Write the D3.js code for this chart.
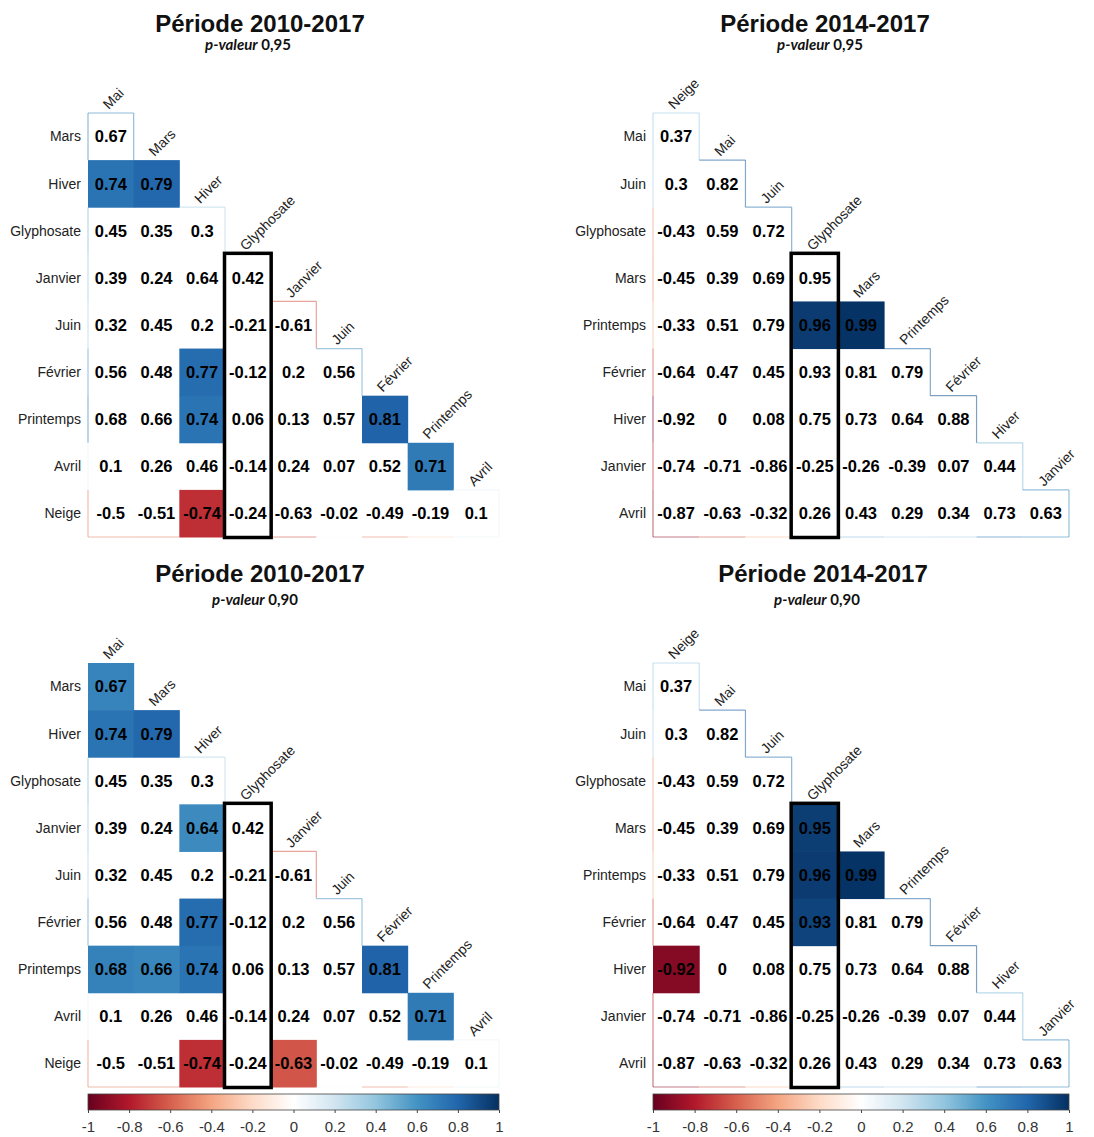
<!DOCTYPE html>
<html>
<head>
<meta charset="utf-8">
<script src="https://cdn.jsdelivr.net/npm/d3@7"></script>
<style>
  html, body { margin: 0; padding: 0; background: #fff; }
  svg { display: block; }
</style>
</head>
<body>
<svg id="chart" width="1094" height="1137"></svg>
<script>
// Variables for the 2010-2017 period (rows / columns of the lower triangle)
const rows2010 = ["Mars", "Hiver", "Glyphosate", "Janvier", "Juin", "Février", "Printemps", "Avril", "Neige"];
const cols2010 = ["Mai", "Mars", "Hiver", "Glyphosate", "Janvier", "Juin", "Février", "Printemps", "Avril"];
const corr2010 = [
  [0.67],
  [0.74, 0.79],
  [0.45, 0.35, 0.3],
  [0.39, 0.24, 0.64, 0.42],
  [0.32, 0.45, 0.2, -0.21, -0.61],
  [0.56, 0.48, 0.77, -0.12, 0.2, 0.56],
  [0.68, 0.66, 0.74, 0.06, 0.13, 0.57, 0.81],
  [0.1, 0.26, 0.46, -0.14, 0.24, 0.07, 0.52, 0.71],
  [-0.5, -0.51, -0.74, -0.24, -0.63, -0.02, -0.49, -0.19, 0.1]
];
// Significant pairs [row, column]
const sig2010_95 = [["Hiver", "Mai"], ["Hiver", "Mars"], ["Février", "Hiver"], ["Printemps", "Hiver"],
  ["Printemps", "Février"], ["Avril", "Printemps"], ["Neige", "Hiver"]];
const sig2010_90 = [["Mars", "Mai"], ["Hiver", "Mai"], ["Hiver", "Mars"], ["Janvier", "Hiver"],
  ["Février", "Hiver"], ["Printemps", "Mai"], ["Printemps", "Mars"], ["Printemps", "Hiver"],
  ["Printemps", "Février"], ["Avril", "Printemps"], ["Neige", "Hiver"], ["Neige", "Janvier"]];

// Variables for the 2014-2017 period
const rows2014 = ["Mai", "Juin", "Glyphosate", "Mars", "Printemps", "Février", "Hiver", "Janvier", "Avril"];
const cols2014 = ["Neige", "Mai", "Juin", "Glyphosate", "Mars", "Printemps", "Février", "Hiver", "Janvier"];
const corr2014 = [
  [0.37],
  [0.3, 0.82],
  [-0.43, 0.59, 0.72],
  [-0.45, 0.39, 0.69, 0.95],
  [-0.33, 0.51, 0.79, 0.96, 0.99],
  [-0.64, 0.47, 0.45, 0.93, 0.81, 0.79],
  [-0.92, 0, 0.08, 0.75, 0.73, 0.64, 0.88],
  [-0.74, -0.71, -0.86, -0.25, -0.26, -0.39, 0.07, 0.44],
  [-0.87, -0.63, -0.32, 0.26, 0.43, 0.29, 0.34, 0.73, 0.63]
];
const sig2014_95 = [["Printemps", "Glyphosate"], ["Printemps", "Mars"]];
const sig2014_90 = [["Mars", "Glyphosate"], ["Printemps", "Glyphosate"], ["Printemps", "Mars"],
  ["Février", "Glyphosate"], ["Hiver", "Neige"]];

// Colour bar ticks and the diverging RdBu palette
const barTicks = [-1, -0.8, -0.6, -0.4, -0.2, 0, 0.2, 0.4, 0.6, 0.8, 1];
const palette = ["#67001F", "#B2182B", "#D6604D", "#F4A582", "#FDDBC7", "#FFFFFF",
  "#D1E5F0", "#92C5DE", "#4393C3", "#2166AC", "#053061"];

const color = d3.scaleLinear()
  .domain(d3.range(palette.length).map(i => -1 + 2 * i / (palette.length - 1)))
  .range(palette)
  .interpolate(d3.interpolateRgb);

const panels = [
  { title: "Période 2010-2017", p: "0,95", rows: rows2010, cols: cols2010, corr: corr2010, sig: sig2010_95,
    box: "Glyphosate", x0: 88, x1: 499, y0: 113, y1: 537, tx: 260, ty: 32, sx: 248, sy: 50, bar: false },
  { title: "Période 2014-2017", p: "0,95", rows: rows2014, cols: cols2014, corr: corr2014, sig: sig2014_95,
    box: "Glyphosate", x0: 653, x1: 1069, y0: 113, y1: 537, tx: 825, ty: 32, sx: 820, sy: 50, bar: false },
  { title: "Période 2010-2017", p: "0,90", rows: rows2010, cols: cols2010, corr: corr2010, sig: sig2010_90,
    box: "Glyphosate", x0: 88, x1: 499, y0: 663, y1: 1087, tx: 260, ty: 582, sx: 255, sy: 605, bar: true },
  { title: "Période 2014-2017", p: "0,90", rows: rows2014, cols: cols2014, corr: corr2014, sig: sig2014_90,
    box: "Glyphosate", x0: 653, x1: 1069, y0: 663, y1: 1087, tx: 823, ty: 582, sx: 817, sy: 605, bar: true }
];

const svg = d3.select("#chart");
const defs = svg.append("defs");
const grad = defs.append("linearGradient").attr("id", "rdbu").attr("x1", "0%").attr("x2", "100%");
d3.range(0, 1.0001, 0.05).forEach(t => {
  grad.append("stop").attr("offset", (t * 100) + "%").attr("stop-color", color(-1 + 2 * t));
});

const SANS = "'Liberation Sans', Arial, sans-serif";

panels.forEach(pn => {
  const g = svg.append("g");
  const x = d3.scaleBand().domain(pn.cols).range([pn.x0, pn.x1]);
  const y = d3.scaleBand().domain(pn.rows).range([pn.y0, pn.y1]);
  const w = x.bandwidth(), h = y.bandwidth();
  const n = pn.rows.length;
  const sigSet = new Set(pn.sig.map(d => d[0] + "|" + d[1]));

  const cells = [];
  pn.corr.forEach((row, i) => row.forEach((v, j) => {
    cells.push({ i, j, r: pn.rows[i], c: pn.cols[j], v, sig: sigSet.has(pn.rows[i] + "|" + pn.cols[j]) });
  }));

  // Titles
  g.append("text")
    .attr("x", pn.tx).attr("y", pn.ty)
    .attr("text-anchor", "middle")
    .style("font-family", SANS).style("font-weight", "bold").style("font-size", "24px")
    .attr("fill", "#111")
    .text(pn.title);
  const sub = g.append("text")
    .attr("x", pn.sx).attr("y", pn.sy)
    .attr("text-anchor", "middle")
    .style("font-family", "Lato, 'Open Sans', sans-serif").style("font-size", "15px").style("font-weight", "bold")
    .attr("fill", "#111");
  sub.append("tspan").style("font-style", "italic").text("p-valeur");
  sub.append("tspan").text(" " + pn.p);

  // Filled cells for significant correlations
  g.selectAll("rect.cell")
    .data(cells.filter(d => d.sig))
    .join("rect")
    .attr("class", "cell")
    .attr("x", d => x(d.c)).attr("y", d => y(d.r))
    .attr("width", w + 0.5).attr("height", h + 0.5)
    .attr("fill", d => color(d.v));

  // Outer edges of the triangle, tinted with each cell's colour
  const edges = [];
  cells.filter(d => !d.sig).forEach(d => {
    const cx0 = x(d.c), cy0 = y(d.r), cx1 = cx0 + w, cy1 = cy0 + h;
    if (d.j === 0) edges.push({ v: d.v, x1: cx0, y1: cy0, x2: cx0, y2: cy1 });
    if (d.i === n - 1) edges.push({ v: d.v, x1: cx0, y1: cy1, x2: cx1, y2: cy1 });
    if (d.j === d.i) {
      edges.push({ v: d.v, x1: cx0, y1: cy0, x2: cx1, y2: cy0 });
      edges.push({ v: d.v, x1: cx1, y1: cy0, x2: cx1, y2: cy1 });
    }
  });
  g.selectAll("line.edge")
    .data(edges)
    .join("line")
    .attr("class", "edge")
    .attr("x1", d => d.x1).attr("y1", d => d.y1)
    .attr("x2", d => d.x2).attr("y2", d => d.y2)
    .attr("stroke", d => color(d.v))
    .attr("stroke-opacity", 0.55)
    .attr("stroke-width", 1.2);

  // Correlation values
  g.selectAll("text.val")
    .data(cells)
    .join("text")
    .attr("class", "val")
    .attr("x", d => x(d.c) + w / 2)
    .attr("y", d => y(d.r) + h / 2)
    .attr("dy", "0.36em")
    .attr("text-anchor", "middle")
    .style("font-family", SANS).style("font-weight", "bold").style("font-size", "16.5px")
    .attr("fill", "#000")
    .text(d => String(d.v));

  // Row labels
  g.selectAll("text.rowlab")
    .data(pn.rows)
    .join("text")
    .attr("class", "rowlab")
    .attr("x", pn.x0 - 7)
    .attr("y", d => y(d) + h / 2)
    .attr("dy", "0.35em")
    .attr("text-anchor", "end")
    .style("font-family", SANS).style("font-size", "14px")
    .attr("fill", "#222")
    .text(d => d);

  // Diagonal column labels
  g.selectAll("text.collab")
    .data(pn.cols)
    .join("text")
    .attr("class", "collab")
    .attr("transform", (d, j) => {
      const px = x(d) + w / 2 - 2;
      const py = y(pn.rows[j]) - 3;
      return `translate(${px},${py}) rotate(-45)`;
    })
    .style("font-family", SANS).style("font-size", "14px")
    .attr("fill", "#222")
    .text(d => d);

  // Highlight box around the Glyphosate column
  const bj = pn.cols.indexOf(pn.box);
  g.append("rect")
    .attr("x", x(pn.box) - 0.5)
    .attr("y", y(pn.rows[bj]) - 1)
    .attr("width", w + 1)
    .attr("height", pn.y1 - y(pn.rows[bj]) + 1.5)
    .attr("fill", "none")
    .attr("stroke", "#000")
    .attr("stroke-width", 3.5);

  // Colour bar
  if (pn.bar) {
    const bx = d3.scaleLinear().domain([-1, 1]).range([pn.x0, pn.x1]);
    const by = pn.y1 + 7, bh = 16;
    g.append("rect")
      .attr("x", pn.x0).attr("y", by)
      .attr("width", pn.x1 - pn.x0).attr("height", bh)
      .attr("fill", "url(#rdbu)")
      .attr("stroke", "#444").attr("stroke-width", 0.8);
    const ax = g.append("g")
      .attr("transform", `translate(0,${by + bh})`)
      .call(d3.axisBottom(bx).tickValues(barTicks).tickSize(3).tickPadding(8)
        .tickFormat(d => String(+d.toFixed(1))));
    ax.select(".domain").remove();
    ax.selectAll(".tick line").attr("stroke", "#444");
    ax.selectAll(".tick text")
      .style("font-family", SANS).style("font-size", "15px").attr("fill", "#333");
  }
});
</script>
</body>
</html>
